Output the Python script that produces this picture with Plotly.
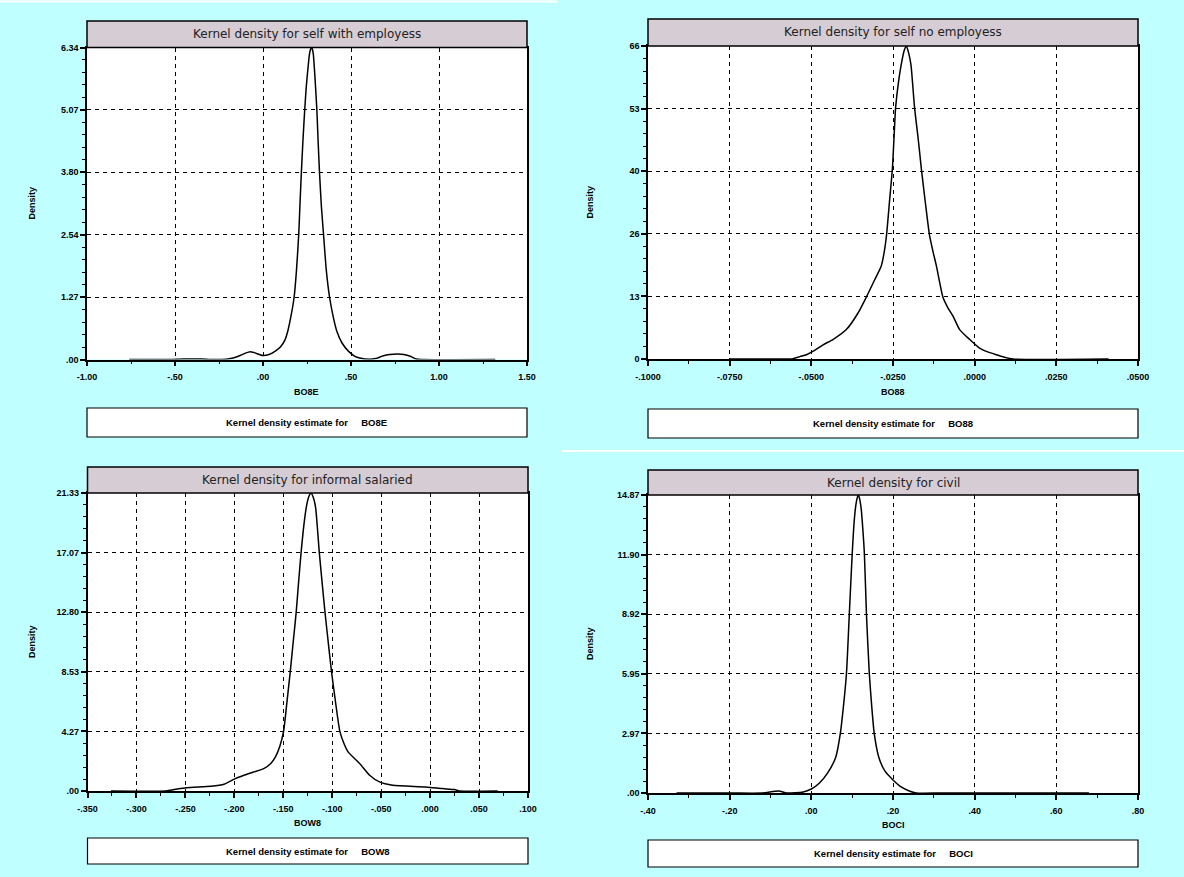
import plotly.graph_objects as go

W, H = 1184, 877
BG = "#C0FFFF"
TITLE_FILL = "#D6CCD4"

# ---------------- data ----------------
titles = ["Kernel density for self with employess", "Kernel density for self no employess",
          "Kernel density for informal salaried", "Kernel density for civil"]
var_names = ["BO8E", "BO88", "BOW8", "BOCI"]

x1 = [-0.76, -0.55, -0.52, -0.45, -0.35, -0.30, -0.25, -0.20, -0.17, -0.13, -0.10, -0.073, -0.05, -0.02, 0.0,
      0.034, 0.07, 0.10, 0.125, 0.141, 0.16, 0.177, 0.19, 0.203, 0.210, 0.218, 0.227, 0.237, 0.246, 0.255,
      0.262, 0.268, 0.276, 0.281, 0.286, 0.295, 0.306, 0.313, 0.321, 0.332, 0.344, 0.36, 0.378, 0.40, 0.419,
      0.45, 0.485, 0.52, 0.55, 0.607, 0.64, 0.68, 0.72, 0.765, 0.80, 0.84, 0.87, 0.90, 1.32]
y1 = [0.0, 0.0, 0.0, 0.01, 0.01, 0.0, 0.0, 0.01, 0.03, 0.08, 0.13, 0.16, 0.14, 0.10, 0.08,
      0.10, 0.17, 0.26, 0.40, 0.58, 0.90, 1.27, 1.80, 2.54, 3.15, 3.80, 4.45, 5.07, 5.55, 5.90,
      6.15, 6.28, 6.34, 6.30, 6.20, 5.75, 5.07, 4.45, 3.80, 3.10, 2.54, 1.80, 1.27, 0.85, 0.58,
      0.33, 0.17, 0.07, 0.03, 0.005, 0.02, 0.07, 0.10, 0.11, 0.10, 0.06, 0.01, 0.0, 0.0]

x2 = [-0.075, -0.0565, -0.0556, -0.0535, -0.0515, -0.049, -0.0464, -0.0434, -0.0393, -0.0357, -0.0332,
      -0.0306, -0.0286, -0.0277, -0.027, -0.0261, -0.0252, -0.0247, -0.0242, -0.0233, -0.0225, -0.0216,
      -0.0209, -0.0202, -0.0195, -0.0184, -0.0173, -0.0163, -0.0151, -0.0138, -0.0127, -0.0117, -0.0097,
      -0.0082, -0.0066, -0.0046, -0.0015, 0.0015, 0.0040, 0.0066, 0.0090, 0.0117, 0.041]
y2 = [0.0, 0.0, 0.05, 0.5, 0.9, 1.8, 3.0, 4.1, 6.2, 9.7, 13.0,
      16.7, 19.6, 22.5, 26.0, 33.0, 40.0, 46.5, 53.0, 58.5, 62.0, 65.0,
      66.0, 64.5, 62.0, 53.0, 46.5, 40.0, 33.0, 26.0, 22.5, 19.6, 13.0,
      10.8, 9.0, 6.2, 4.1, 2.3, 1.5, 0.9, 0.4, 0.0, 0.0]

x3 = [-0.326, -0.27, -0.26, -0.249, -0.224, -0.2105, -0.199, -0.185, -0.170, -0.163, -0.158, -0.1535,
      -0.1497, -0.1462, -0.1429, -0.1398, -0.1368, -0.1343, -0.1318, -0.1285, -0.126, -0.1238, -0.1216,
      -0.1193, -0.117, -0.1132, -0.1103, -0.1074, -0.1040, -0.1007, -0.0965, -0.0922, -0.0880, -0.0838,
      -0.072, -0.0618, -0.0517, -0.0382, -0.0044, 0.0125, 0.025, 0.030, 0.069]
y3 = [0.0, 0.0, 0.12, 0.24, 0.34, 0.48, 0.89, 1.25, 1.60, 1.95, 2.44, 3.2,
      4.27, 6.4, 8.53, 10.7, 12.80, 15.0, 17.07, 19.3, 20.5, 21.1, 21.33,
      21.0, 20.3, 17.07, 14.9, 12.80, 10.6, 8.53, 6.3, 4.27, 3.4, 2.80,
      1.97, 1.13, 0.65, 0.41, 0.29, 0.17, 0.10, 0.0, 0.0]

x4 = [-0.33, -0.20, -0.12, -0.08, -0.06, -0.02, 0.0, 0.02, 0.04, 0.06, 0.071, 0.079, 0.086, 0.093, 0.100,
      0.104, 0.108, 0.112, 0.115, 0.118, 0.122, 0.126, 0.130, 0.135, 0.142, 0.148, 0.154, 0.165, 0.18, 0.20,
      0.22, 0.24, 0.257, 0.32, 0.45, 0.68]
y4 = [0.0, 0.0, 0.0, 0.1, 0.0, 0.05, 0.2, 0.5, 1.0, 1.8, 2.97, 4.4, 5.95, 8.92, 11.90,
      13.3, 14.2, 14.7, 14.87, 14.7, 14.2, 13.2, 11.90, 8.92, 5.95, 4.3, 2.97, 1.8, 1.1, 0.65,
      0.3, 0.1, 0.0, 0.0, 0.0, 0.0]

xticks1 = [-1.0, -0.5, 0.0, 0.5, 1.0, 1.5]
xtext1 = ["-1.00", "-.50", ".00", ".50", "1.00", "1.50"]
yticks1 = [0, 1.268, 2.536, 3.804, 5.072, 6.34]
ytext1 = [".00", "1.27", "2.54", "3.80", "5.07", "6.34"]

xticks2 = [-0.1, -0.075, -0.05, -0.025, 0.0, 0.025, 0.05]
xtext2 = ["-.1000", "-.0750", "-.0500", "-.0250", ".0000", ".0250", ".0500"]
yticks2 = [0, 13.2, 26.4, 39.6, 52.8, 66]
ytext2 = ["0", "13", "26", "40", "53", "66"]

xticks3 = [-0.35, -0.30, -0.25, -0.20, -0.15, -0.10, -0.05, 0.0, 0.05, 0.10]
xtext3 = ["-.350", "-.300", "-.250", "-.200", "-.150", "-.100", "-.050", ".000", ".050", ".100"]
yticks3 = [0, 4.266, 8.532, 12.798, 17.064, 21.33]
ytext3 = [".00", "4.27", "8.53", "12.80", "17.07", "21.33"]

xticks4 = [-0.4, -0.2, 0.0, 0.2, 0.4, 0.6, 0.8]
xtext4 = ["-.40", "-.20", ".00", ".20", ".40", ".60", ".80"]
yticks4 = [0, 2.974, 5.948, 8.922, 11.896, 14.87]
ytext4 = [".00", "2.97", "5.95", "8.92", "11.90", "14.87"]

# ---------------- layout geometry (pixels) ----------------
panels = [
    dict(x=x1, y=y1, xt=xticks1, xl=xtext1, yt=yticks1, yl=ytext1,
         px=(87, 527), py=(47.5, 359.5), tb=(21, 47.5), lb=(408, 437), xtitle_y=392, ylab_x=32),
    dict(x=x2, y=y2, xt=xticks2, xl=xtext2, yt=yticks2, yl=ytext2,
         px=(648, 1138), py=(46, 359), tb=(19, 46), lb=(409, 438), xtitle_y=392, ylab_x=590),
    dict(x=x3, y=y3, xt=xticks3, xl=xtext3, yt=yticks3, yl=ytext3,
         px=(87.5, 528), py=(493, 791), tb=(467, 493), lb=(838, 864), xtitle_y=823, ylab_x=32),
    dict(x=x4, y=y4, xt=xticks4, xl=xtext4, yt=yticks4, yl=ytext4,
         px=(648, 1138), py=(495, 793), tb=(470, 495), lb=(840, 867), xtitle_y=825, ylab_x=590),
]


def PX(v):
    return v / W


def PY(v):
    return 1 - v / H


fig = go.Figure()
shapes = []
annotations = []
tickfont = dict(family="Liberation Sans", size=9, color="black", weight="bold")
smallbold = dict(family="Liberation Sans", size=9, color="black", weight="bold")
legfont = dict(family="Liberation Sans", size=9.5, color="black", weight="bold")

for i, p in enumerate(panels):
    k = "" if i == 0 else str(i + 1)
    xa, ya = "x" + k, "y" + k
    fig.add_trace(go.Scatter(x=p["x"], y=p["y"], mode="lines", xaxis=xa, yaxis=ya,
                             line=dict(color="black", width=1.5, shape="spline", smoothing=0.6),
                             showlegend=False, hoverinfo="skip"))
    xstep = p["xt"][1] - p["xt"][0]
    ystep = p["yt"][1] - p["yt"][0]
    fig.layout["xaxis" + k] = dict(
        domain=[PX(p["px"][0]), PX(p["px"][1])], anchor=ya, automargin=False,
        range=[p["xt"][0], p["xt"][-1]], tickmode="array", tickvals=p["xt"], ticktext=p["xl"],
        ticks="outside", ticklen=5, tickwidth=1.5, tickcolor="black", tickfont=tickfont,
        ticklabelstandoff=3,
        showline=True, linecolor="black", linewidth=1.5, mirror=True,
        showgrid=True, gridcolor="black", gridwidth=1.2, griddash="4px,4px", zeroline=False,
        minor=dict(tickmode="linear", tick0=p["xt"][0], dtick=xstep / 2, ticks="outside",
                   ticklen=3, tickwidth=1.2, tickcolor="black", showgrid=False),
        fixedrange=True,
    )
    fig.layout["yaxis" + k] = dict(
        domain=[PY(p["py"][1]), PY(p["py"][0])], anchor=xa, automargin=False,
        range=[0, p["yt"][-1]], tickmode="array", tickvals=p["yt"], ticktext=p["yl"],
        ticks="outside", ticklen=5, tickwidth=1.5, tickcolor="black", tickfont=tickfont,
        showline=True, linecolor="black", linewidth=1.5, mirror=True,
        showgrid=True, gridcolor="black", gridwidth=1.2, griddash="4px,4px", zeroline=False,
        minor=dict(tickmode="linear", tick0=0, dtick=ystep / 5, ticks="outside",
                   ticklen=3, tickwidth=1.2, tickcolor="black", showgrid=False),
        fixedrange=True,
    )
    # title box
    shapes.append(dict(type="rect", xref="paper", yref="paper",
                       x0=PX(p["px"][0]), x1=PX(p["px"][1]), y0=PY(p["tb"][1]), y1=PY(p["tb"][0]),
                       fillcolor=TITLE_FILL, line=dict(color="black", width=1.5), layer="above"))
    annotations.append(dict(xref="paper", yref="paper", x=PX((p["px"][0] + p["px"][1]) / 2),
                            y=PY((p["tb"][0] + p["tb"][1]) / 2), text=titles[i], showarrow=False,
                            xanchor="center", yanchor="middle",
                            font=dict(family="DejaVu Sans", size=12, color="#222222")))
    # legend box
    shapes.append(dict(type="rect", xref="paper", yref="paper",
                       x0=PX(p["px"][0]), x1=PX(p["px"][1]), y0=PY(p["lb"][1]), y1=PY(p["lb"][0]),
                       fillcolor="white", line=dict(color="black", width=1.2)))
    annotations.append(dict(xref="paper", yref="paper", x=PX((p["px"][0] + p["px"][1]) / 2),
                            y=PY((p["lb"][0] + p["lb"][1]) / 2),
                            text="Kernel density estimate for\u00a0\u00a0\u00a0\u00a0\u00a0" + var_names[i],
                            showarrow=False, xanchor="center", yanchor="middle", font=legfont))
    # x title
    annotations.append(dict(xref="paper", yref="paper", x=PX((p["px"][0] + p["px"][1]) / 2),
                            y=PY(p["xtitle_y"]), text=var_names[i], showarrow=False,
                            xanchor="center", yanchor="middle", font=smallbold))
    # y title
    annotations.append(dict(xref="paper", yref="paper", x=PX(p["ylab_x"]),
                            y=PY((p["py"][0] + p["py"][1]) / 2), text="Density", showarrow=False,
                            textangle=-90, xanchor="center", yanchor="middle", font=smallbold))

# thin white seams from the pasted screenshots
shapes.append(dict(type="line", xref="paper", yref="paper", x0=0, x1=PX(557), y0=PY(1.5), y1=PY(1.5),
                   line=dict(color="white", width=2)))
shapes.append(dict(type="line", xref="paper", yref="paper", x0=PX(562), x1=1, y0=PY(451), y1=PY(451),
                   line=dict(color="white", width=2)))

fig.update_layout(width=W, height=H, autosize=False,
                  margin=dict(l=0, r=0, t=0, b=0, pad=0, autoexpand=False),
                  paper_bgcolor=BG, plot_bgcolor="white", shapes=shapes, annotations=annotations,
                  showlegend=False)

fig.write_html("out.html", config={"displayModeBar": False, "responsive": False},
               post_script="document.body.style.margin='0';document.body.style.overflow='hidden';")
